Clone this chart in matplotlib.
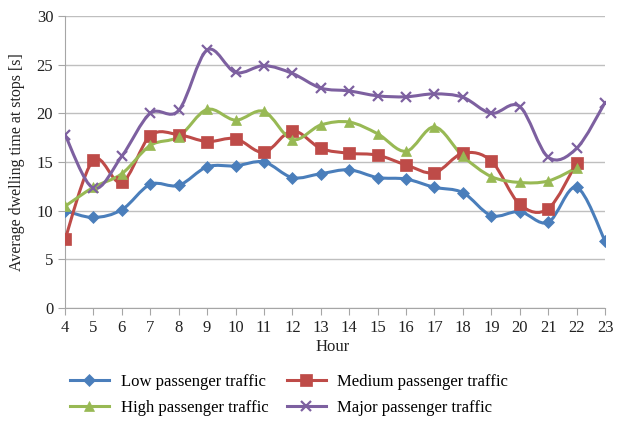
import numpy as np
import matplotlib
matplotlib.use("Agg")
import matplotlib.pyplot as plt
from matplotlib.path import Path
from matplotlib.patches import PathPatch
from matplotlib.lines import Line2D

plt.rcParams['font.family'] = ['Liberation Serif', 'DejaVu Serif']

hours = list(range(4, 24))
low = [10.0, 9.3, 10.1, 12.7, 12.6, 14.5, 14.6, 15.0, 13.4, 13.8, 14.2, 13.4,
       13.25, 12.4, 11.85, 9.5, 9.9, 8.8, 12.4, 6.9]
medium = [7.05, 15.2, 12.9, 17.7, 17.8, 17.1, 17.4, 16.0, 18.2, 16.4, 15.9, 15.7,
          14.7, 13.9, 15.9, 15.1, 10.65, 10.2, 14.9]
high = [10.45, 12.4, 13.8, 16.7, 17.6, 20.4, 19.3, 20.2, 17.3, 18.8, 19.1, 17.9,
        16.1, 18.6, 15.6, 13.5, 12.9, 13.05, 14.4]
major = [17.8, 12.3, 15.6, 20.0, 20.3, 26.5, 24.2, 24.9, 24.1, 22.6, 22.3, 21.8,
         21.7, 22.0, 21.65, 20.0, 20.7, 15.5, 16.4, 21.1]

names = ["Low passenger traffic", "Medium passenger traffic",
         "High passenger traffic", "Major passenger traffic"]
colors = ["#4A7EBB", "#BE4B48", "#98B954", "#7D60A0"]
markers = ["D", "s", "^", "x"]
msizes = [6, 8, 7, 7]

FS = 12


def smooth_path(x, y):
    # Catmull-Rom style bezier through every point, like spreadsheet "smoothed line"
    pts = np.column_stack([x, y]).astype(float)
    verts = [pts[0]]
    codes = [Path.MOVETO]
    n = len(pts)
    for i in range(n - 1):
        p0 = pts[i - 1] if i > 0 else pts[i]
        p1 = pts[i]
        p2 = pts[i + 1]
        p3 = pts[i + 2] if i + 2 < n else pts[i + 1]
        c1 = p1 + (p2 - p0) / 6.0
        c2 = p2 - (p3 - p1) / 6.0
        verts += [c1, c2, p2]
        codes += [Path.CURVE4] * 3
    return Path(verts, codes)


fig = plt.figure(figsize=(6.26, 4.22), dpi=100)
ax = fig.add_axes([65 / 626, 1 - 308 / 422, 540 / 626, 292 / 422])

series = [low, medium, high, major]
handles = []
for vals, name, c, m, ms in zip(series, names, colors, markers, msizes):
    xs = hours[:len(vals)]
    ax.add_patch(PathPatch(smooth_path(xs, vals), facecolor="none",
                           edgecolor=c, lw=2.2, zorder=3))
    mew = 1.6 if m == "x" else 0.5
    ax.plot(xs, vals, linestyle="none", marker=m, markersize=ms, color=c,
            markeredgecolor=c, markeredgewidth=mew, zorder=4)
    handles.append(Line2D([], [], color=c, lw=2.2, marker=m, markersize=ms,
                          markeredgewidth=mew, label=name))

ax.set_xlim(4, 23)
ax.set_ylim(0, 30)
ax.set_xticks(hours)
ax.set_yticks(range(0, 31, 5))
ax.grid(axis="y", color="#BFBFBF", lw=1)
ax.set_axisbelow(True)
for s in ["top", "right"]:
    ax.spines[s].set_visible(False)
for s in ["left", "bottom"]:
    ax.spines[s].set_color("#A6A6A6")
ax.tick_params(axis="both", colors="#A6A6A6", labelcolor="#222222",
               labelsize=FS, length=5, direction="out")
ax.set_ylabel("Average dwelling time at stops [s]", fontsize=11.5, color="#222222")
ax.yaxis.set_label_coords(-(65 - 25) / 540, 0.5)

fig.text(333 / 626, 1 - 347 / 422, "Hour", ha="center", va="center",
         fontsize=FS, color="#222222")

# legend fills column-wise, so order gives rows Low/Medium, High/Major
order = [0, 2, 1, 3]
fig.legend(handles=[handles[i] for i in order], loc="center",
           bbox_to_anchor=(289 / 626, 1 - 394.5 / 422),
           ncol=2, frameon=False, fontsize=FS, handlelength=2.35,
           columnspacing=1.1, labelspacing=0.6, handletextpad=0.7)

fig.savefig("out.png", dpi=100)
